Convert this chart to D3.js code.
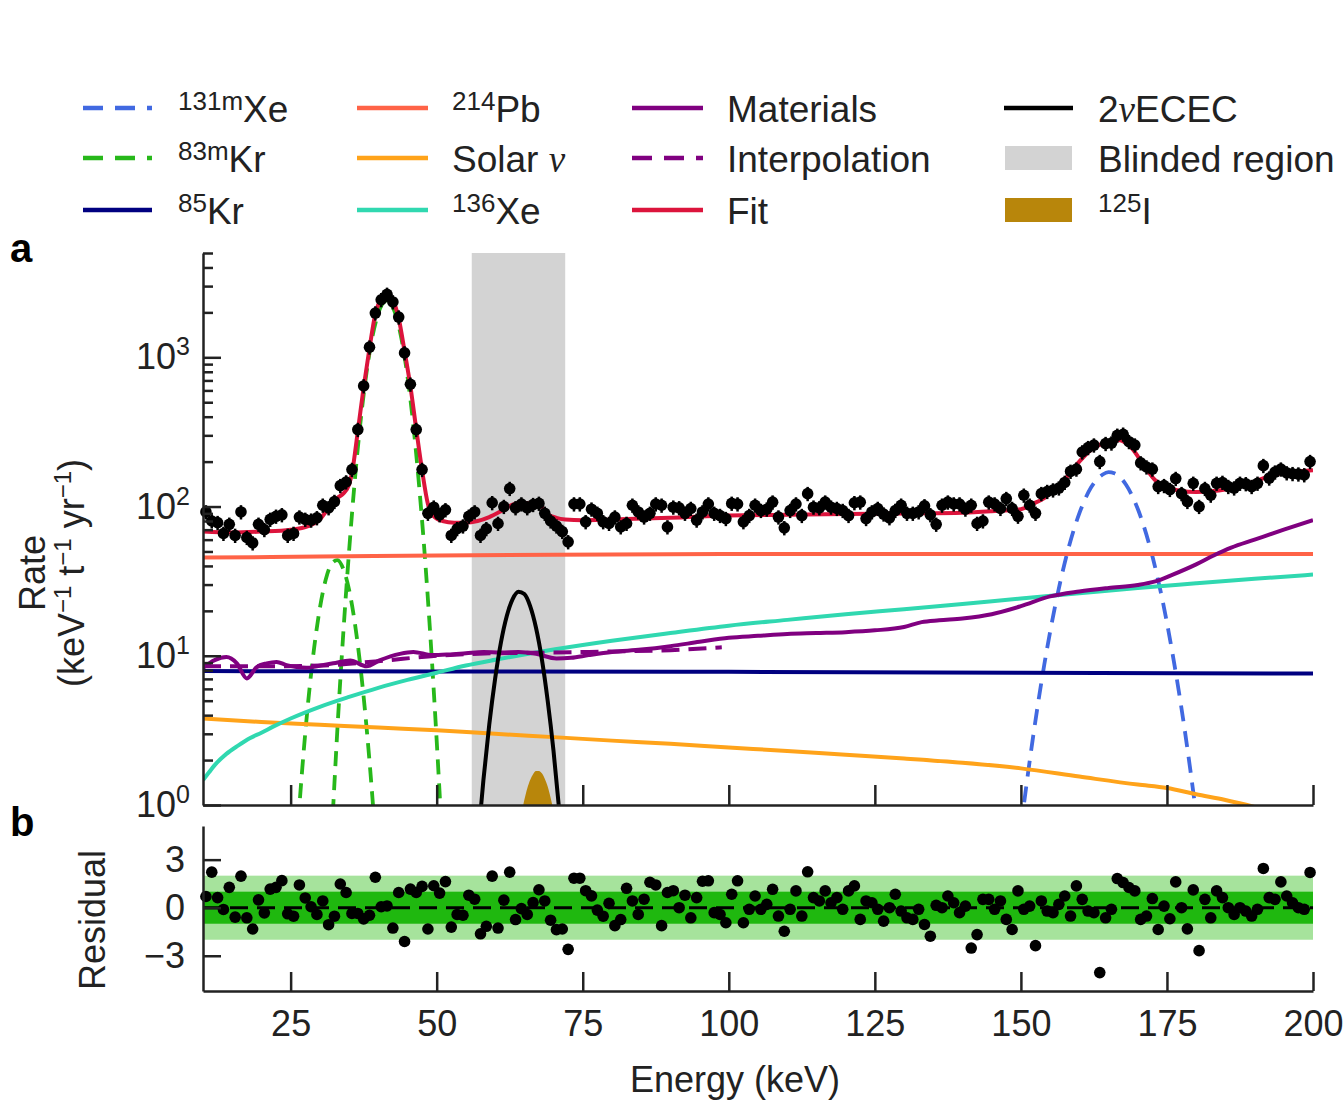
<!DOCTYPE html>
<html>
<head>
<meta charset="utf-8">
<script src="https://cdn.jsdelivr.net/npm/d3@7"></script>
<style>
  body { margin: 0; background: #fff; }
  svg { display: block; font-family: "Liberation Sans", Arial, Helvetica, sans-serif; }
  .axis path, .axis line { stroke: #222; stroke-width: 2.5; }
  .axis text { font-size: 36px; fill: #222; font-family: "Liberation Sans", Arial, sans-serif; }
</style>
</head>
<body>
<svg id="chart" width="1343" height="1101"></svg>
<script>
// ---- data ----
// measured rate per 1 keV bin, bin centres 10.5 ... 199.5 keV
const energyBins = d3.range(10.5, 200, 1);
const rate = [
  92, 80, 78, 66, 76, 64, 92, 62, 57, 76,
  70, 82, 86, 88, 64, 66, 85, 82, 81, 84,
  102, 98, 108, 138, 146, 177, 328, 643, 1170, 1980,
  2430, 2640, 2350, 1860, 1070, 660, 328, 177, 90, 99,
  88, 95, 64, 71, 74, 86, 92, 64, 71, 106,
  77, 100, 132, 98, 104, 98, 103, 105, 90, 80,
  74, 68, 58, 104, 104, 79, 96, 90, 79, 77,
  85, 73, 77, 102, 92, 85, 90, 104, 102, 73,
  99, 98, 90, 97, 81, 92, 104, 90, 87, 83,
  105, 104, 79, 87, 102, 94, 96, 107, 85, 72,
  94, 104, 87, 122, 99, 98, 107, 99, 97, 94,
  87, 106, 107, 83, 92, 97, 89, 84, 94, 102,
  90, 90, 92, 101, 88, 76, 102, 107, 104, 104,
  96, 102, 77, 80, 107, 104, 97, 113, 97, 86,
  119, 102, 90, 122, 126, 129, 133, 145, 172, 178,
  232, 248, 258, 200, 264, 266, 300, 305, 272, 258,
  196, 184, 178, 136, 138, 130, 154, 122, 108, 143,
  100, 132, 119, 143, 145, 136, 133, 143, 142, 136,
  143, 188, 155, 170, 178, 168, 166, 165, 163, 200
];
const residual = [
  0.70, 2.22, 0.63, -0.11, 1.27, -0.59, 1.97, -0.63, -1.33, 0.49,
  -0.32, 1.16, 1.27, 1.69, -0.38, -0.53, 1.42, 0.61, 0.06, -0.42,
  0.42, -1.06, -0.53, 1.48, 0.95, -0.36, -0.36, -0.70, -0.47, 1.90,
  0.06, 0.11, -1.27, 0.95, -2.11, 1.16, 0.95, 1.33, -1.33, 1.37,
  0.91, 1.63, -1.21, -0.42, -0.47, 0.78, 0.53, -1.63, -1.16, 1.97,
  -1.27, 0.47, 2.22, -0.74, -0.06, -0.42, 0.32, 1.12, 0.42, -0.78,
  -1.37, -1.33, -2.60, 1.84, 1.84, 1.06, 0.74, -0.15, -0.53, 0.27,
  -1.12, -0.74, 1.21, 0.42, -0.42, 0.53, 1.59, 1.42, -1.12, 0.95,
  1.06, 0.00, 0.78, -0.63, 0.63, 1.65,
  1.68, -0.31, -0.42, -0.94, 0.84, 1.68, -0.94, -0.10, 0.73, -0.10,
  0.21, 1.15, -0.52, -1.47, -0.10, 1.05, -0.52, 2.24, 0.63, 0.42,
  1.05, 0.31, 0.63, -0.10, 1.05, 1.36, -0.73, 0.42, 0.31, -0.10,
  -0.84, 0.00, 0.84, -0.21, -0.63, -0.73, -0.10, -1.05, -1.78, 0.15,
  0.00, 0.73, 0.31, -0.31, 0.10, -2.52, -1.68, 0.52, 0.52, -0.10,
  0.42, -0.73, -1.36, 1.05, -0.10, 0.10, -2.37, 0.42, -0.21, -0.31,
  0.21, 0.73, -0.52, 1.36, 0.52, -0.21, -0.31, -4.05, -0.63, -0.10,
  1.82, 1.57, 1.26, 1.05, -0.73, -0.52, 0.57, -1.36, 0.10, -0.69,
  1.61, 0.00, -1.32, 1.11, -2.68, 0.52, -0.63, 1.05, 0.63, 0.00,
  -0.42, 0.00, -0.21, -0.52, -0.10, 2.45, 0.63, 0.52, 1.61, 0.73,
  0.31, 0.00, -0.10, 2.20
];
const errFrac = 0.11;

// model curves: [energy keV, rate]
const fitCurve = [[10,68],[15,67],[20,68],[25,70],[28,74],[30,82],[31,92],[32,104],[33,114],[34,122],
  [35,140],[35.5,168],[36.5,320],[37.5,630],[38.5,1150],[39.5,1950],[40.5,2450],[41.5,2600],[42.5,2400],
  [43.5,1820],[44.5,1100],[45.5,640],[46.5,330],[47.5,175],[48.5,104],[49.5,86],[51,80],[53,78],[55,78],
  [57,80],[59,85],[61,93],[63,103],[64.5,106],[66,105],[67.5,103],[69,89],[70.5,84],[72,82],[75,81],
  [80,82],[90,84],[100,87],[110,88],[120,89],[130,90],[140,91],[145,93],[150,96],[152,104],[154,114],
  [156,132],[158,160],[160,200],[162,240],[164,265],[166,280],[167,278],[169,245],[171,190],[173,150],
  [175,135],[177,128],[180,125],[183,127],[186,132],[190,147],[193,162],[196,170],[200,175]];
const pb214 = [[10,45.5],[30,46.2],[50,47],[70,47.6],[100,48],[150,48],[200,48]];
const solarNu = [[10,3.8],[20,3.6],[30,3.45],[40,3.3],[50,3.17],[60,3.0],[70,2.85],[80,2.7],[90,2.57],
  [100,2.43],[110,2.3],[120,2.17],[130,2.05],[140,1.92],[150,1.76],[160,1.55],[170,1.37],[175,1.3],
  [180,1.18],[185,1.08],[190,0.97],[195,0.86],[200,0.76]];
const xe136 = [[10,1.47],[11,1.65],[12,1.85],[14,2.2],[16,2.5],[18,2.8],[20,3.05],[22,3.35],[25,3.8],
  [30,4.55],[35,5.3],[40,6.1],[45,6.9],[50,7.7],[55,8.6],[60,9.4],[65,10.2],[70,11.0],[80,12.6],
  [90,14.2],[100,15.9],[110,17.4],[120,19.0],[130,20.5],[140,22.2],[150,24.2],[160,26.2],[170,28.5],
  [180,30.6],[190,32.8],[200,35]];
const kr85 = [[10,7.9],[50,7.85],[100,7.8],[150,7.7],[200,7.6]];
const materials = [[10,8.3],[12,9.35],[14,9.8],[15.8,8.9],[17.5,7.05],[19.2,8.4],[20.9,8.9],[22.6,9.1],
  [24.3,8.65],[26,8.4],[27.7,8.3],[29.5,8.5],[32.3,8.9],[35.2,9.3],[38,8.5],[40.2,9.3],[43.7,10.3],
  [46,10.6],[49.2,10.1],[52,10.2],[55,10.4],[58,10.6],[61,10.5],[64,10.6],[67,10.3],[70.5,9.6],
  [73,9.7],[76,10.1],[80,10.6],[85,11.0],[90,11.6],[95,12.4],[100,13.2],[105,13.6],[110,14.0],
  [115,14.2],[120,14.4],[125,14.8],[130,15.6],[133,16.8],[136,17.3],[140,17.8],[145,19],[150,21.5],
  [155,25],[160,27],[165,28.5],[170,29.8],[173,31.5],[176,35],[180,41],[183,47],[186,53],[190,60],
  [195,70],[200,81]];
const interpolation = [[10,8.5],[20,8.5],[30,8.6],[40,9.2],[50,10.0],[60,10.4],[70,10.5],[80,10.7],
  [90,10.9],[98.8,11.4]];
const kr83mLow = [[26,0.53],[27,1.77],[28,4.9],[29,11.1],[30,20.8],[31,32.3],[32,41.3],[33,43.8],
  [34,38.3],[35,27.7],[36,16.5],[37,8.1],[38,3.3],[39,1.12],[40,0.31]];
const kr83mHigh = [[32,0.6],[32.5,1.4],[33,3.2],[34,13.9],[35,50],[36,152],[37,382],[38,794],[39,1374],
  [40,1972],[41,2355],[41.5,2400],[42,2333],[43,1919],[44,1312],[45,745],[46,351],[47,137],[48,45],
  [49,12.1],[50,2.7],[50.5,1.2],[51,0.5]];
const xe131m = [[150,0.7],[151,1.41],[152,2.71],[154,8.7],[156,22.9],[158,50],[160,90],[162,134],
  [164,164],[165,170],[166,167],[168,140],[170,96.6],[172,55.2],[174,26.1],[176,10.1],[178,3.27],
  [179,1.72],[180,0.87]];
const ecec = [[57,0.54],[58,1.47],[59,3.46],[60,7.0],[61,12.3],[62,18.5],[63,24],[64,26.9],[65,25.9],
  [66,21.5],[67,15.4],[68,9.5],[69,5.0],[70,2.3],[71,0.9],[71.5,0.54]];
const i125 = [[64.5,0.87],[65,1.08],[65.5,1.29],[66,1.47],[66.5,1.61],[67,1.69],[67.5,1.69],[68,1.63],
  [68.5,1.5],[69,1.33],[69.5,1.12],[70,0.91]];
const blinded = [56, 72];

const xTicks = [25, 50, 75, 100, 125, 150, 175, 200];
const yMajor = [1, 10, 100, 1000];
const yMinor = [2, 3, 4, 5, 6, 7, 8, 9, 20, 30, 40, 50, 60, 70, 80, 90,
  200, 300, 400, 500, 600, 700, 800, 900, 2000, 3000, 4000, 5000];
const residTicks = [-3, 0, 3];

// ---- scales ----
const svg = d3.select("#chart");
const x = d3.scaleLinear().domain([10, 200]).range([203, 1313]);
const y = d3.scaleLog().domain([1, 5000]).range([805, 253]);
const yr = d3.scaleLinear().domain([-5.2, 5.1]).range([991, 826]);

svg.append("defs").append("clipPath").attr("id", "clipA")
  .append("rect").attr("x", 203).attr("y", 253).attr("width", 1110).attr("height", 552);

const plotA = svg.append("g").attr("clip-path", "url(#clipA)");

plotA.append("rect")
  .attr("x", x(blinded[0])).attr("y", 253)
  .attr("width", x(blinded[1]) - x(blinded[0])).attr("height", 552)
  .attr("fill", "#d3d3d3");

plotA.append("path")
  .datum(i125)
  .attr("fill", "#b8860b")
  .attr("d", d3.area().x(d => x(d[0])).y0(y(1)).y1(d => y(d[1])).curve(d3.curveMonotoneX));

const line = d3.line().x(d => x(d[0])).y(d => y(d[1])).curve(d3.curveMonotoneX);

function curve(data, color, width, dash) {
  plotA.append("path")
    .datum(data)
    .attr("fill", "none")
    .attr("stroke", color)
    .attr("stroke-width", width)
    .attr("stroke-dasharray", dash || null)
    .attr("d", line);
}

curve(kr83mLow, "#27b81a", 3.8, "15,9");
curve(kr83mHigh, "#27b81a", 3.8, "15,9");
curve(xe131m, "#4169e1", 3.8, "16,10");
curve(kr85, "#000080", 4);
curve(pb214, "#ff6347", 4);
curve(solarNu, "#ffa31a", 4);
curve(xe136, "#30d8b0", 4);
curve(materials, "#800080", 4);
curve(interpolation, "#800080", 4, "18,9");
curve(ecec, "#000000", 4);
curve(fitCurve, "#dc143c", 4);

// data points with error bars
const pts = svg.append("g");
pts.selectAll("line")
  .data(rate)
  .enter().append("line")
  .attr("x1", (d, i) => x(energyBins[i]))
  .attr("x2", (d, i) => x(energyBins[i]))
  .attr("y1", d => y(d * (1 - errFrac)))
  .attr("y2", d => y(d * (1 + errFrac)))
  .attr("stroke", "#000")
  .attr("stroke-width", 2.5);
pts.selectAll("circle")
  .data(rate)
  .enter().append("circle")
  .attr("cx", (d, i) => x(energyBins[i]))
  .attr("cy", d => y(d))
  .attr("r", 5.8)
  .attr("fill", "#000");

// ---- axes panel a ----
svg.append("g").attr("class", "axis")
  .attr("transform", "translate(0,805)")
  .call(d3.axisBottom(x).tickValues(xTicks).tickSize(-20).tickSizeOuter(0).tickFormat(""));

const gYA = svg.append("g").attr("class", "axis")
  .attr("transform", "translate(203,0)")
  .call(d3.axisLeft(y).tickValues(yMajor).tickSize(-18).tickSizeOuter(0).tickPadding(13));
gYA.selectAll(".tick text").each(function(d) {
  const t = d3.select(this).text(null);
  t.append("tspan").text("10");
  t.append("tspan").attr("dy", -14).attr("font-size", 25).text(Math.round(Math.log10(d)));
});
svg.append("g").attr("class", "axis")
  .attr("transform", "translate(203,0)")
  .call(d3.axisLeft(y).tickValues(yMinor).tickSize(-10).tickSizeOuter(0).tickFormat(""))
  .select(".domain").remove();

// ---- panel b (residuals) ----
svg.append("rect")
  .attr("x", x(10)).attr("width", x(200) - x(10))
  .attr("y", yr(2)).attr("height", yr(-2) - yr(2))
  .attr("fill", "#a6e39c");
svg.append("rect")
  .attr("x", x(10)).attr("width", x(200) - x(10))
  .attr("y", yr(1)).attr("height", yr(-1) - yr(1))
  .attr("fill", "#1fb80f");
svg.append("line")
  .attr("x1", x(10)).attr("x2", x(200))
  .attr("y1", yr(0)).attr("y2", yr(0))
  .attr("stroke", "#000").attr("stroke-width", 3)
  .attr("stroke-dasharray", "18,9");

svg.append("g").selectAll("circle")
  .data(residual)
  .enter().append("circle")
  .attr("cx", (d, i) => x(energyBins[i]))
  .attr("cy", d => yr(d))
  .attr("r", 5.8)
  .attr("fill", "#000");

svg.append("g").attr("class", "axis")
  .attr("transform", "translate(0,991)")
  .call(d3.axisBottom(x).tickValues(xTicks).tickSize(-19).tickSizeOuter(0).tickPadding(19));

svg.append("g").attr("class", "axis")
  .attr("transform", "translate(203,0)")
  .call(d3.axisLeft(yr).tickValues(residTicks).tickSize(-18).tickSizeOuter(0).tickPadding(18));

// ---- axis titles and panel letters ----
const rateLabel = svg.append("g").attr("transform", "translate(45,573) rotate(-90)");
rateLabel.append("text").attr("text-anchor", "middle").attr("font-size", 36).attr("fill", "#222").text("Rate");
const unitText = svg.append("text")
  .attr("transform", "translate(84,573) rotate(-90)")
  .attr("text-anchor", "middle").attr("font-size", 36).attr("fill", "#222");
[["(keV", 0], ["−1", 1], [" t", 0], ["−1", 1], [" yr", 0], ["−1", 1], [")", 0]].forEach(([s, sup], i, arr) => {
  const prevSup = i > 0 && arr[i - 1][1];
  unitText.append("tspan")
    .attr("font-size", sup ? 24 : 36)
    .attr("dy", sup ? -13 : (prevSup ? 13 : 0))
    .text(s);
});
svg.append("text")
  .attr("transform", "translate(105,920) rotate(-90)")
  .attr("text-anchor", "middle").attr("font-size", 36).attr("fill", "#222")
  .text("Residual");
svg.append("text")
  .attr("x", 735).attr("y", 1092)
  .attr("text-anchor", "middle").attr("font-size", 36).attr("fill", "#222")
  .text("Energy (keV)");
svg.append("text").attr("x", 10).attr("y", 262)
  .attr("font-size", 40).attr("font-weight", "bold").text("a");
svg.append("text").attr("x", 10).attr("y", 836)
  .attr("font-size", 40).attr("font-weight", "bold").text("b");

// ---- legend ----
const legendCols = [[83, 152, 178], [357, 428, 452], [632, 703, 727], [1004, 1073, 1098]];
const legendRows = [108, 158, 210];
const legendItems = [
  { parts: [["131m", "sup"], ["Xe", ""]], color: "#4169e1", dash: "20,12", type: "line" },
  { parts: [["83m", "sup"], ["Kr", ""]], color: "#27b81a", dash: "20,12", type: "line" },
  { parts: [["85", "sup"], ["Kr", ""]], color: "#000080", type: "line" },
  { parts: [["214", "sup"], ["Pb", ""]], color: "#ff6347", type: "line" },
  { parts: [["Solar ", ""], ["ν", "it"]], color: "#ffa31a", type: "line" },
  { parts: [["136", "sup"], ["Xe", ""]], color: "#30d8b0", type: "line" },
  { parts: [["Materials", ""]], color: "#800080", type: "line" },
  { parts: [["Interpolation", ""]], color: "#800080", dash: "20,12", type: "line" },
  { parts: [["Fit", ""]], color: "#dc143c", type: "line" },
  { parts: [["2", ""], ["ν", "it"], ["ECEC", ""]], color: "#000", type: "line" },
  { parts: [["Blinded region", ""]], color: "#d3d3d3", type: "box" },
  { parts: [["125", "sup"], ["I", ""]], color: "#b8860b", type: "box" }
];

const legend = svg.append("g");
legendItems.forEach((it, i) => {
  const col = legendCols[Math.floor(i / 3)];
  const cy = legendRows[i % 3];
  if (it.type === "line") {
    legend.append("line")
      .attr("x1", col[0]).attr("x2", col[1]).attr("y1", cy).attr("y2", cy)
      .attr("stroke", it.color).attr("stroke-width", 4.5)
      .attr("stroke-dasharray", it.dash || null);
  } else {
    legend.append("rect")
      .attr("x", col[0] + 1).attr("y", cy - 12).attr("width", col[1] - col[0] - 2).attr("height", 24)
      .attr("fill", it.color);
  }
  const t = legend.append("text").attr("x", col[2]).attr("y", cy + 14)
    .attr("font-size", 37).attr("fill", "#222");
  let raised = false;
  it.parts.forEach(([s, kind]) => {
    const sp = t.append("tspan").text(s);
    if (kind === "sup") {
      sp.attr("font-size", 26).attr("dy", -12);
      raised = true;
    } else {
      if (raised) { sp.attr("dy", 12); raised = false; }
      if (kind === "it") sp.attr("font-family", "'Liberation Serif', 'DejaVu Serif', serif").attr("font-style", "italic");
    }
  });
});
</script>
</body>
</html>
